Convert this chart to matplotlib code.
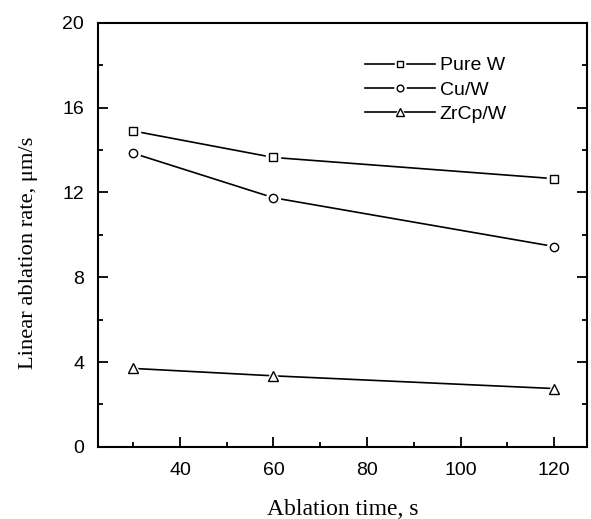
import matplotlib
matplotlib.use('Agg')
import matplotlib.pyplot as plt
from matplotlib.legend_handler import HandlerTuple
from matplotlib.ticker import MultipleLocator

# ablation time, s
times = [30, 60, 120]
# linear ablation rate, um/s
pure_w = [14.9, 13.65, 12.65]
cu_w = [13.85, 11.75, 9.45]
zrcp_w = [3.7, 3.35, 2.75]

labels = ['Pure W', 'Cu/W', 'ZrCp/W']
markers = ['s', 'o', '^']
msizes = [5.5, 6, 7.5]

fig = plt.figure(figsize=(5.91, 5.19), dpi=100)
ax = fig.add_axes([0.166, 0.139, 0.827, 0.817])

handles = []
for ys, m, ms in zip([pure_w, cu_w, zrcp_w], markers, msizes):
    ln, = ax.plot(times, ys, color='black', lw=1.2, zorder=2)
    # white halo so the line stops short of the marker
    hl, = ax.plot(times, ys, ls='none', marker=m, ms=ms + 4, mfc='white',
                  mec='white', mew=1.0, zorder=3)
    mk, = ax.plot(times, ys, ls='none', marker=m, ms=ms, mfc='white',
                  mec='black', mew=1.0, zorder=4)
    handles.append((ln, hl, mk))

ax.set_xlim(22.5, 127)
ax.set_ylim(0, 20)
ax.xaxis.set_major_locator(MultipleLocator(20))
ax.xaxis.set_minor_locator(MultipleLocator(10))
ax.yaxis.set_major_locator(MultipleLocator(4))
ax.yaxis.set_minor_locator(MultipleLocator(2))
ax.set_xticks([40, 60, 80, 100, 120])

for s in ax.spines.values():
    s.set_linewidth(1.5)
ax.tick_params(which='both', direction='in', top=False, right=True, width=1.3)
ax.tick_params(which='major', length=7, labelsize=14)
ax.tick_params(which='minor', length=3.5)
ax.tick_params(axis='x', which='major', pad=11)
ax.tick_params(axis='y', which='major', pad=10)
for t in ax.get_xticklabels() + ax.get_yticklabels():
    t.set_fontfamily('Liberation Sans')

ax.set_xlabel('Ablation time, s', fontfamily='Liberation Serif', fontsize=17, labelpad=14)
ax.set_ylabel('Linear ablation rate, μm/s', fontfamily='Liberation Serif', fontsize=16.2)
ax.yaxis.set_label_coords(-0.122, 0.4575)

leg = ax.legend(handles, labels, handler_map={tuple: HandlerTuple(ndivide=1)},
                loc='upper left', bbox_to_anchor=(0.546, 0.92), frameon=False,
                handlelength=3.6, handletextpad=0.25, labelspacing=0.35,
                markerscale=0.8, borderaxespad=0, borderpad=0,
                prop={'family': 'Liberation Sans', 'size': 14})

fig.savefig('out.png', dpi=100)
